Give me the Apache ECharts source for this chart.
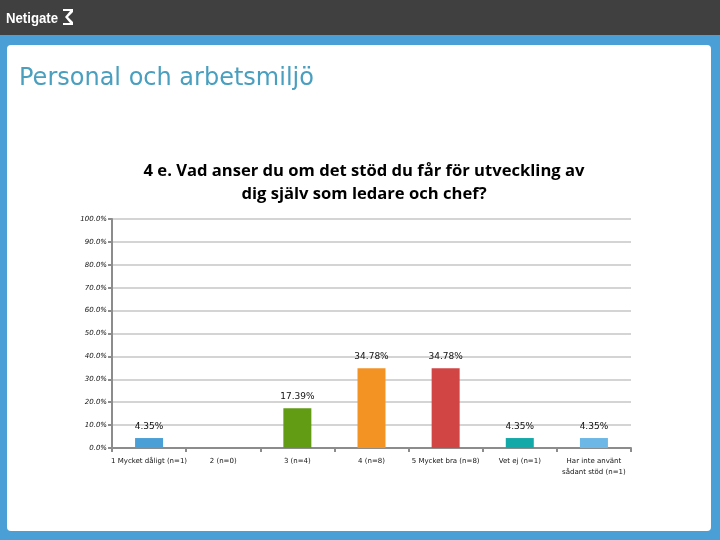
<!DOCTYPE html>
<html>
<head>
<meta charset="utf-8">
<script src="https://cdn.jsdelivr.net/npm/echarts@6/dist/echarts.min.js"></script>
<style>
html,body{margin:0;padding:0;background:#4a9fd6;}
#c{width:720px;height:540px;}
</style>
</head>
<body>
<div id="c"></div>
<script>
const categories = ['1 Mycket dåligt (n=1)', '2 (n=0)', '3 (n=4)', '4 (n=8)', '5 Mycket bra (n=8)', 'Vet ej (n=1)', 'Har inte använt\nsådant stöd (n=1)'];
const values = [4.35, 0, 17.39, 34.78, 34.78, 4.35, 4.35];
const barColors = ['#4a9fd6', '#4a9fd6', '#629c14', '#f39323', '#d24545', '#13a9a9', '#6cb7e6'];
const yTicks = { min: 0, max: 100, interval: 10 };
const pageTitle = 'Personal och arbetsmiljö';
const chartTitle = '4 e. Vad anser du om det stöd du får för utveckling av\ndig själv som ledare och chef?';

const chart = echarts.init(document.getElementById('c'), null, { renderer: 'canvas' });
chart.setOption({
  animation: false,
  backgroundColor: '#4a9fd6',
  graphic: [
    { type: 'rect', shape: { x: 0, y: 0, width: 720, height: 35 }, style: { fill: '#404040' }, z: 0 },
    { type: 'rect', shape: { x: 7, y: 45, width: 704, height: 486, r: 4 }, style: { fill: '#ffffff' }, z: 0 },
    { type: 'text', x: 6, y: 11, scaleX: 0.88, style: { text: 'Netigate', fill: '#ffffff', font: 'bold 15px "Liberation Sans", Arial' }, z: 1 },
    { type: 'polygon', shape: { points: [[63, 9], [73, 9], [73, 12], [68, 17], [73, 22], [73, 25], [63, 25], [63, 23], [70, 23], [65, 17], [70, 11], [63, 11]] }, style: { fill: '#ffffff' }, z: 1 },
    { type: 'text', x: 19, y: 67, style: { text: pageTitle, fill: '#4a9fbf', font: '24px "DejaVu Sans", "Open Sans"' }, z: 1 }
  ],
  title: {
    text: chartTitle,
    left: 359,
    top: 155,
    textAlign: 'center',
    textStyle: { fontFamily: '"Open Sans"', fontWeight: 'bold', fontSize: 16.6, color: '#000', lineHeight: 23 }
  },
  grid: { left: 112, right: 89, top: 219, bottom: 92, containLabel: false },
  xAxis: {
    type: 'category',
    data: categories,
    axisLine: { lineStyle: { color: '#8c8c8c', width: 2 } },
    axisTick: { show: true, alignWithLabel: false, length: 4, lineStyle: { color: '#8c8c8c', width: 2 } },
    axisLabel: { interval: 0, fontSize: 7, fontFamily: '"DejaVu Sans"', color: '#111', margin: 8, lineHeight: 11 }
  },
  yAxis: {
    type: 'value',
    min: yTicks.min, max: yTicks.max, interval: yTicks.interval,
    axisLine: { show: true, lineStyle: { color: '#8c8c8c', width: 2 } },
    axisTick: { show: true, length: 4, lineStyle: { color: '#8c8c8c', width: 2 } },
    splitLine: { lineStyle: { color: '#d4d4d4', width: 2 } },
    axisLabel: { formatter: v => v.toFixed(1) + '%', fontSize: 7, fontStyle: 'italic', fontFamily: '"DejaVu Sans"', color: '#111', margin: 5 }
  },
  series: [{
    type: 'bar',
    data: values.map((v, i) => ({ value: v, itemStyle: { color: barColors[i] } })),
    barWidth: 28,
    label: {
      show: true,
      position: 'top',
      distance: 7,
      formatter: p => p.value === 0 ? '' : p.value.toFixed(2) + '%',
      fontSize: 9,
      fontFamily: '"DejaVu Sans"',
      color: '#111'
    }
  }]
});
</script>
</body>
</html>
